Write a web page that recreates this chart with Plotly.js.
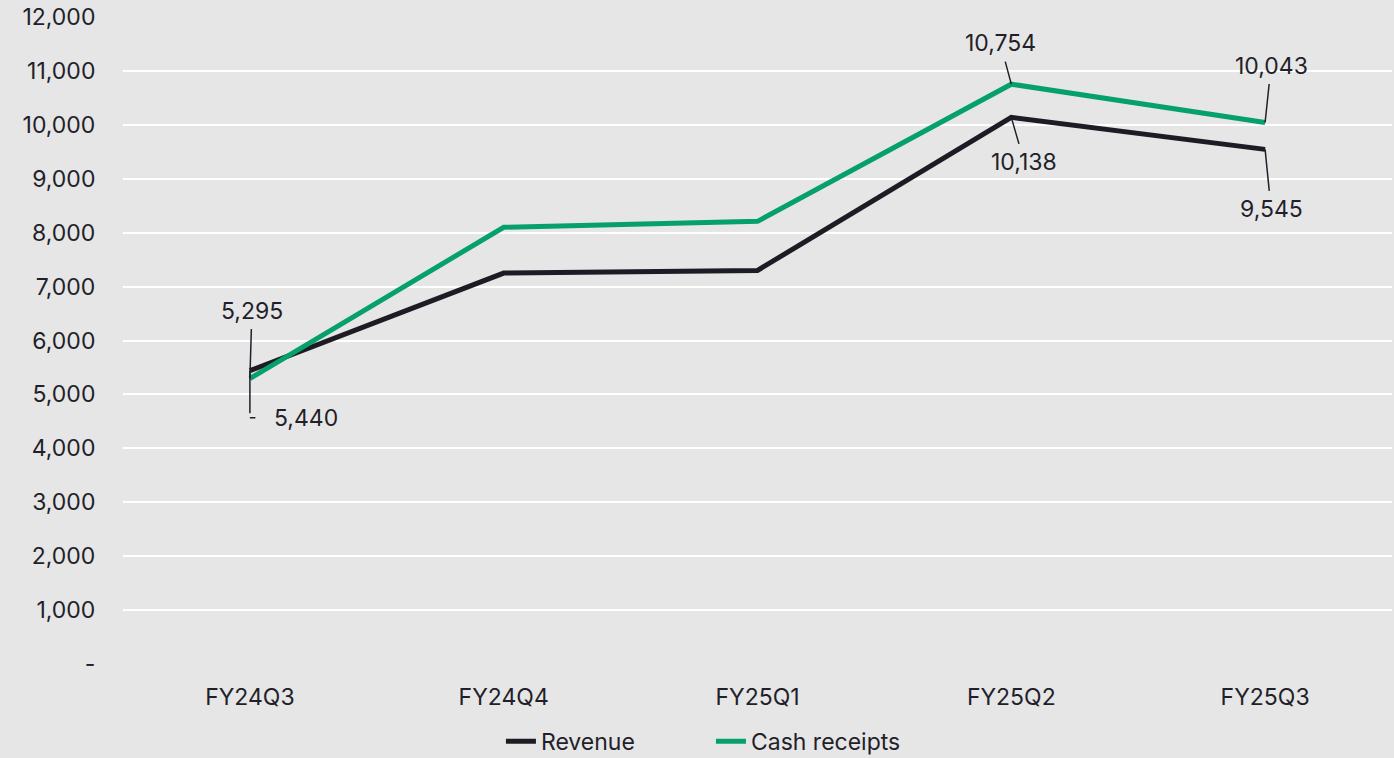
<!DOCTYPE html>
<html>
<head>
<meta charset="utf-8">
<script src="https://cdn.plot.ly/plotly-3.0.1.min.js"></script>
<style>
  html, body { margin: 0; padding: 0; background: #e6e6e6; }
  #chart { width: 1394px; height: 758px; }
</style>
</head>
<body>
<div id="chart"></div>
<script>
const quarters = ["FY24Q3", "FY24Q4", "FY25Q1", "FY25Q2", "FY25Q3"];
const revenue = [5440, 7250, 7300, 10138, 9545];
const cashReceipts = [5295, 8100, 8210, 10754, 10043];

const yTickVals = [0, 1000, 2000, 3000, 4000, 5000, 6000, 7000, 8000, 9000, 10000, 11000, 12000];
const yTickText = ["-", "1,000", "2,000", "3,000", "4,000", "5,000", "6,000", "7,000", "8,000", "9,000", "10,000", "11,000", "12,000"];

const REV_COLOR = "#1f1b25";
const CASH_COLOR = "#06a06c";
const TEXT_COLOR = "#231f2a";
const FONT = "Inter, 'Open Sans', sans-serif";
const FS = 23;

const traces = [
  {
    x: quarters, y: revenue, type: "scatter", mode: "lines", name: "Revenue",
    line: { color: REV_COLOR, width: 5 },
  },
  {
    x: quarters, y: cashReceipts, type: "scatter", mode: "lines", name: "Cash receipts",
    line: { color: CASH_COLOR, width: 5 },
  },
];

// leader-line label: arrow from the point to the text at (ax, ay) px offset
function label(i, series, ax, ay, extra) {
  return Object.assign({
    x: quarters[i], y: series[i],
    text: series[i].toLocaleString("en-US"),
    showarrow: true, arrowhead: 0, arrowwidth: 1.5, arrowcolor: TEXT_COLOR,
    ax, ay, axref: "pixel", ayref: "pixel",
    font: { family: FONT, size: FS, color: TEXT_COLOR },
    borderpad: 4,
  }, extra || {});
}

const annotations = [
  label(0, cashReceipts, 2, -68),
  // elbow leader for 5,440: vertical drop, then short horizontal run to text
  label(0, revenue, 0, 47, { text: "" }),
  label(0, revenue, 56, 0, { yshift: -47, startstandoff: 14 }),
  label(3, cashReceipts, -11, -41),
  label(3, revenue, 13, 45),
  label(4, cashReceipts, 6, -57),
  label(4, revenue, 6, 60),
];

const layout = {
  width: 1394, height: 758,
  paper_bgcolor: "#e6e6e6",
  plot_bgcolor: "rgba(0,0,0,0)",
  font: { family: FONT, size: FS, color: TEXT_COLOR },
  margin: { t: 17, r: 2, b: 94, l: 123 },
  xaxis: {
    type: "category", range: [-0.5, 4.5],
    showgrid: false, zeroline: false, showline: false,
    ticks: "outside", ticklen: 0, ticklabelstandoff: 12,
  },
  yaxis: {
    range: [0, 12000], tickvals: yTickVals, ticktext: yTickText,
    gridcolor: "#ffffff", gridwidth: 2, zeroline: false, showline: false,
    ticks: "outside", ticklen: 0, ticklabelstandoff: 22,
  },
  showlegend: true,
  legend: {
    orientation: "h", xref: "container", yref: "container",
    x: 0.51, xanchor: "center", y: 0.022, yanchor: "middle",
    entrywidth: 165,
    font: { family: FONT, size: FS, color: TEXT_COLOR },
    bgcolor: "rgba(0,0,0,0)",
  },
  annotations,
};

Plotly.newPlot("chart", traces, layout, { displayModeBar: false, staticPlot: true });
</script>
</body>
</html>
